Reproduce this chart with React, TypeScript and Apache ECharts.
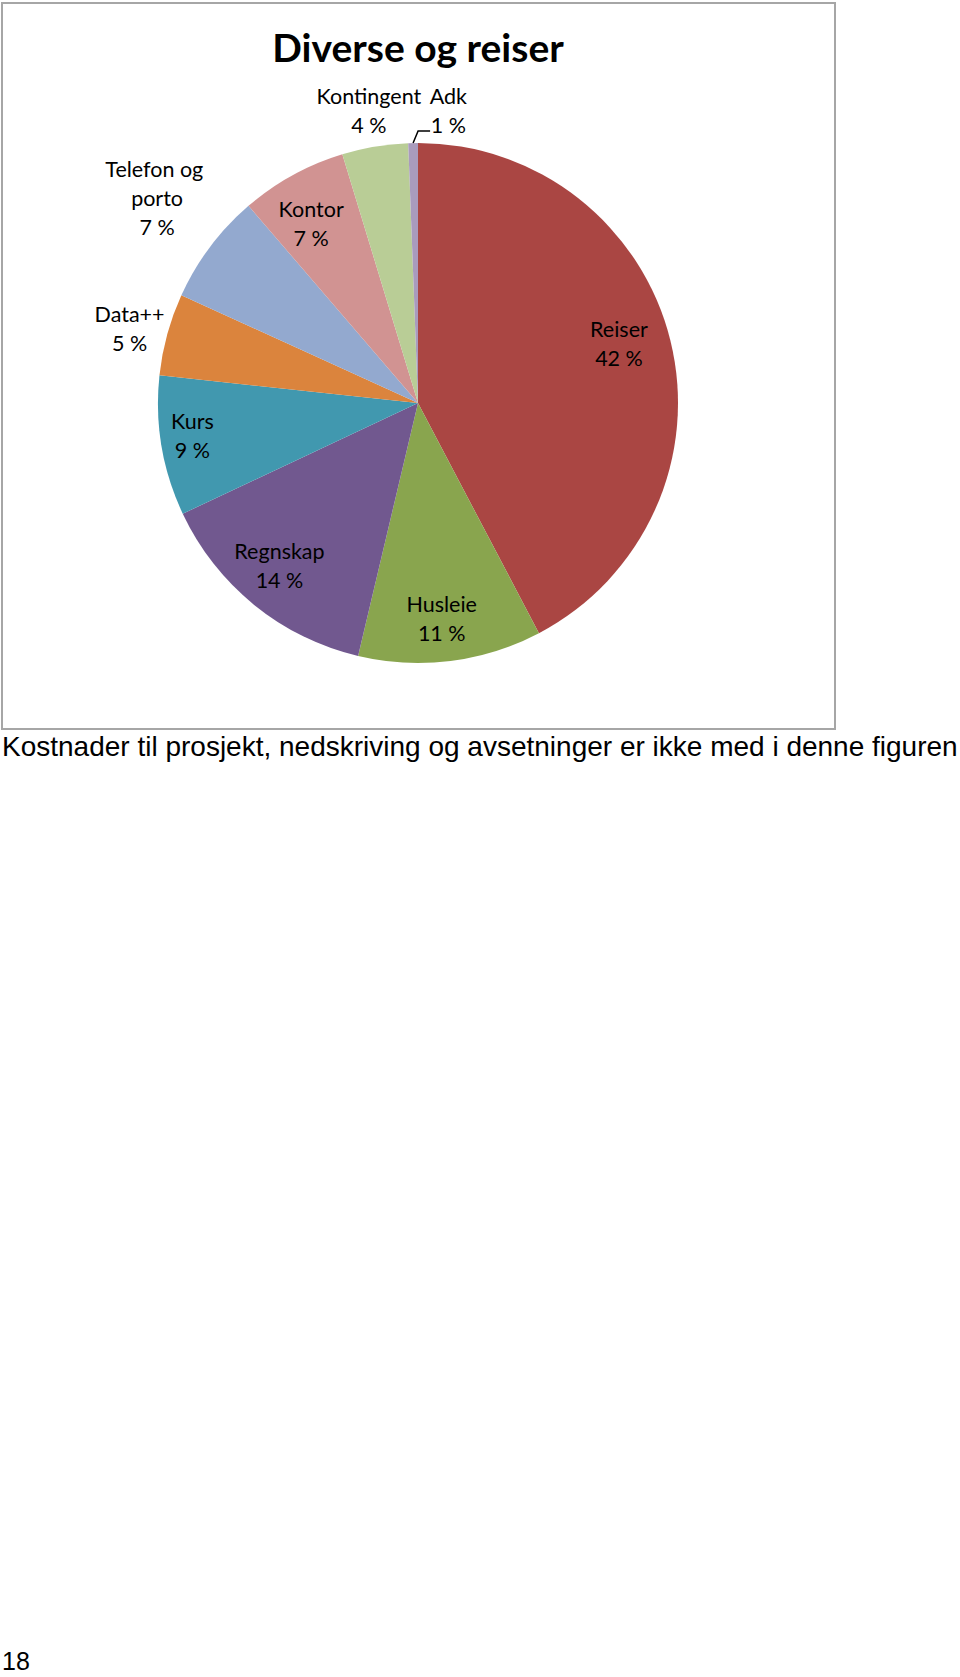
import React, { useEffect, useRef } from "react";
import * as echarts from "echarts";

const categories = ["Reiser", "Husleie", "Regnskap", "Kurs", "Data++", "Telefon og porto", "Kontor", "Kontingent", "Adk"];
const values = [42.3, 11.4, 14.3, 8.7, 5.1, 6.9, 6.6, 4.1, 0.6];
const colors = ["#AA4643", "#89A54E", "#71588F", "#4198AF", "#DB843D", "#93A9CF", "#D19392", "#B9CD96", "#A99BBD"];
const titleText = "Diverse og reiser";
const footnote = "Kostnader til prosjekt, nedskriving og avsetninger er ikke med i denne figuren";
const pageNumber = "18";

// label placement: distance from centre (fraction of radius) and angular shift (deg)
const labelDist = [0.806, 0.832, 0.821, 0.877, 1.146, 1.277, 0.805, 1.14, 1.13];
const labelTurn = [-2.6, 0.9, 1.4, 1.3, -0.8, 1.3, -1.9, 0, 7];

const CX = 418;
const CY = 403;
const R = 260;

const total = values.reduce((a, b) => a + b, 0);
const midAngles: number[] = [];
{
  let acc = 0;
  values.forEach((v) => {
    midAngles.push(((acc + v / 2) / total) * 360);
    acc += v;
  });
}
const pt = (deg: number, r: number) => {
  const a = (deg * Math.PI) / 180;
  return [CX + r * Math.sin(a), CY - r * Math.cos(a)];
};

export default function App() {
  const ref = useRef<HTMLDivElement>(null);
  useEffect(() => {
    if (!ref.current) return;
    const chart = echarts.init(ref.current, undefined, { renderer: "svg" });
    const adkIdx = categories.length - 1;
    const p0 = pt(midAngles[adkIdx], R);
    const p1 = [p0[0] + 5, p0[1] - 12];
    const p2 = [p1[0] + 12, p1[1]];
    chart.setOption({
      animation: false,
      graphic: [
        {
          type: "rect",
          shape: { x: 2, y: 3, width: 833, height: 726 },
          style: { fill: "none", stroke: "#a6a6a6", lineWidth: 2 },
          z: 0,
        },
        {
          type: "text",
          x: CX,
          y: 47,
          style: {
            text: titleText,
            font: "bold 39px Lato",
            fill: "#000",
            textAlign: "center",
            textVerticalAlign: "middle",
          },
        },
        {
          type: "polyline",
          shape: { points: [p0, p1, p2] },
          style: { stroke: "#000", lineWidth: 1.5, fill: "none" },
          z: 10,
        },
        {
          type: "text",
          x: 2,
          y: 746,
          style: {
            text: footnote,
            font: "28px 'Liberation Sans', Arial",
            fill: "#000",
            textAlign: "left",
            textVerticalAlign: "middle",
          },
        },
        {
          type: "text",
          x: 2,
          y: 1661,
          style: {
            text: pageNumber,
            font: "25px 'Liberation Sans', Arial",
            fill: "#000",
            textAlign: "left",
            textVerticalAlign: "middle",
          },
        },
      ],
      series: [
        {
          type: "pie",
          center: [CX, CY],
          radius: [0, R],
          startAngle: 90,
          clockwise: true,
          avoidLabelOverlap: false,
          silent: true,
          emphasis: { disabled: true },
          itemStyle: { borderWidth: 0 },
          label: {
            show: true,
            position: "inside",
            color: "#000",
            fontFamily: "Lato",
            fontSize: 21.5,
            lineHeight: 29,
            textBorderWidth: 0,
            formatter: (p: any) => `${p.name}\n${Math.round(p.percent)} %`,
          },
          labelLine: { show: false },
          labelLayout: (params: any) => {
            const i = params.dataIndex;
            const [x, y] = pt(midAngles[i] + labelTurn[i], R * labelDist[i]);
            return { x, y, align: "center", verticalAlign: "middle" };
          },
          data: categories.map((name, i) => ({
            name,
            value: values[i],
            itemStyle: { color: colors[i] },
            ...(name === "Telefon og porto" ? { label: { width: 120, overflow: "break" } } : {}),
          })),
        },
      ],
    });
    return () => chart.dispose();
  }, []);
  return <div ref={ref} style={{ position: "absolute", left: 0, top: 0, width: 960, height: 1677 }} />;
}
